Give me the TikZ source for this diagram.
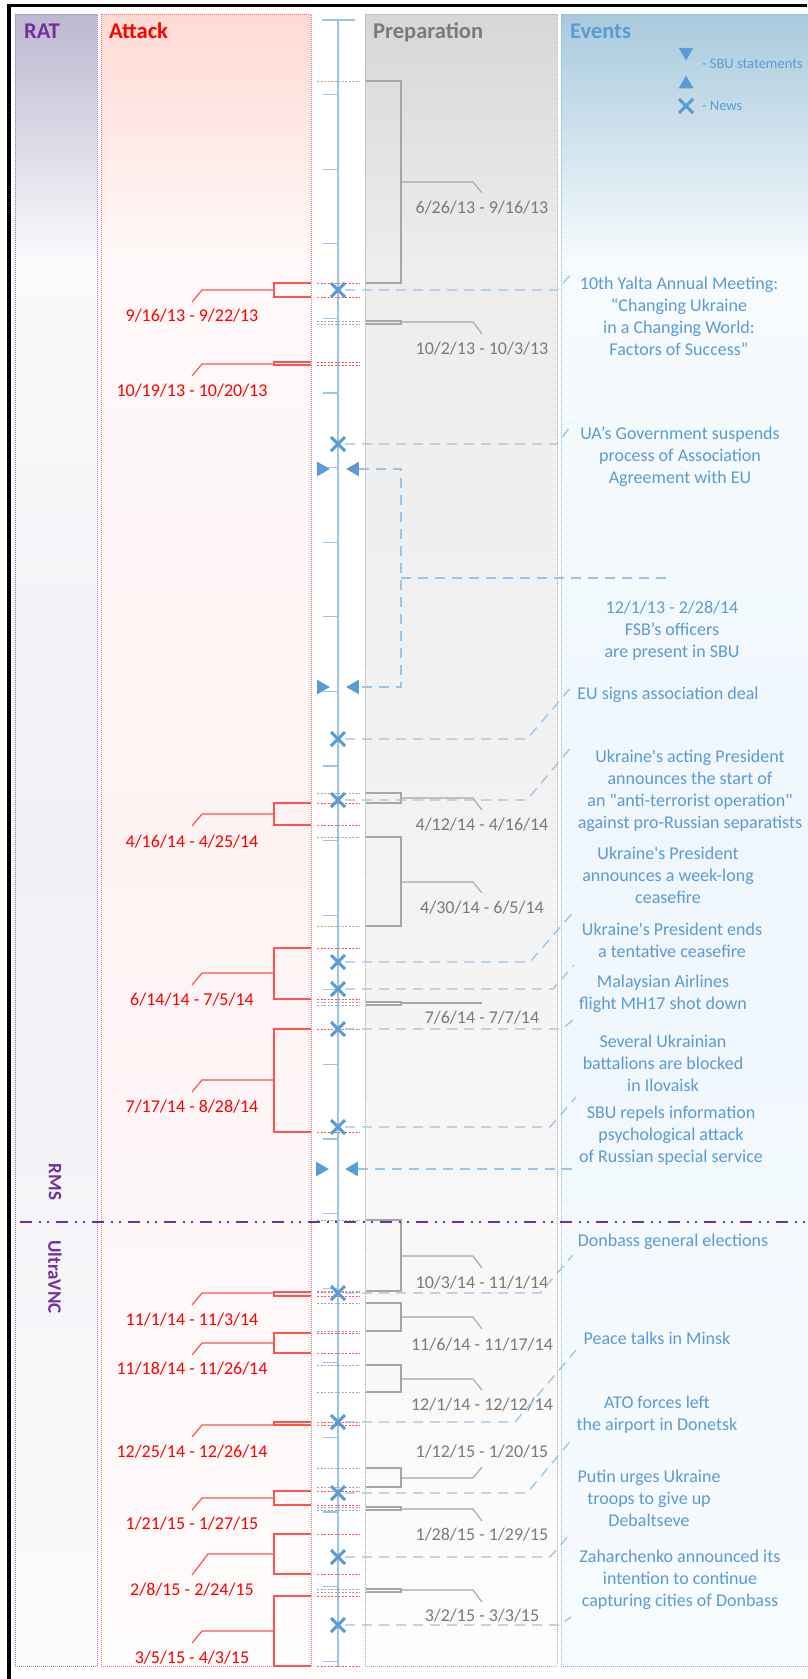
\documentclass[tikz,border=0pt]{standalone}
\usepackage{fontspec}
\setmainfont{Carlito}[Ligatures=TeXOff]
\usetikzlibrary{shapes.geometric,shapes.misc}

\definecolor{ratpurple}{HTML}{7030A0}
\definecolor{ratborder}{HTML}{9A7CC8}
\definecolor{atkred}{HTML}{FF0000}
\definecolor{atkline}{HTML}{FF5252}
\definecolor{atkborder}{HTML}{FF6A6A}
\definecolor{prepgray}{HTML}{7A7A7A}
\definecolor{prepline}{HTML}{A6A6A6}
\definecolor{prepborder}{HTML}{A8A8A8}
\definecolor{evblue}{HTML}{5B9BD5}
\definecolor{evlight}{HTML}{9DC3E6}
\definecolor{evborder}{HTML}{86B6E2}

\definecolor{ratT}{HTML}{BDB8D1}
\definecolor{ratA}{HTML}{FAFAFC}
\definecolor{ratB}{HTML}{F0F0F5}
\definecolor{ratC}{HTML}{FBFBFD}
\definecolor{atkT}{HTML}{FFDAD5}
\definecolor{atkA}{HTML}{FFF9F9}
\definecolor{atkB}{HTML}{FDF3F3}
\definecolor{atkC}{HTML}{FFFCFC}
\definecolor{prpT}{HTML}{D7D7D7}
\definecolor{prpA}{HTML}{EDEDED}
\definecolor{prpB}{HTML}{F2F2F2}
\definecolor{prpC}{HTML}{FDFDFD}
\definecolor{evT}{HTML}{A8CADD}
\definecolor{evA}{HTML}{F7FBFD}
\definecolor{evB}{HTML}{EFF7FD}
\definecolor{evC}{HTML}{F7FBFE}

\pgfdeclareverticalshading{ratshade}{100bp}{color(0bp)=(ratC); color(25bp)=(ratC); color(50bp)=(ratB); color(67.5bp)=(ratA); color(75bp)=(ratT); color(100bp)=(ratT)}
\pgfdeclareverticalshading{atkshade}{100bp}{color(0bp)=(atkC); color(25bp)=(atkC); color(50bp)=(atkB); color(67.5bp)=(atkA); color(75bp)=(atkT); color(100bp)=(atkT)}
\pgfdeclareverticalshading{prpshade}{100bp}{color(0bp)=(prpC); color(25bp)=(prpC); color(50bp)=(prpB); color(67.5bp)=(prpA); color(75bp)=(prpT); color(100bp)=(prpT)}
\pgfdeclareverticalshading{evshade}{100bp}{color(0bp)=(evC); color(25bp)=(evC); color(50bp)=(evB); color(67.5bp)=(evA); color(75bp)=(evT); color(100bp)=(evT)}

\tikzset{
  lane/.style={line width=0.8pt, dash pattern=on 1pt off 1pt},
  head/.style={font=\fontsize{22.5}{27}\selectfont\bfseries, anchor=base west, inner sep=0pt},
  rotlab/.style={font=\fontsize{19}{22}\selectfont\bfseries, text=ratpurple, rotate=-90, inner sep=0pt},
  evtext/.style={font=\fontsize{18}{22}\selectfont, text=evblue, align=center, inner sep=0pt},
  lgtext/.style={font=\fontsize{14.5}{17}\selectfont, text=evblue, anchor=west, inner sep=0pt},
  atklabel/.style={font=\fontsize{18}{22}\selectfont, text=atkred, inner sep=0pt},
  preplabel/.style={font=\fontsize{18}{22}\selectfont, text=prepgray, inner sep=0pt},
  evline/.style={draw=evlight, line width=1.3pt, dash pattern=on 10pt off 7pt},
  newsx/.style={cross out, draw=evblue, line width=3pt, minimum size=11pt, inner sep=0pt},
  sbutri/.style={regular polygon, regular polygon sides=3, fill=evblue, minimum size=17pt, inner sep=0pt},
  tlline/.style={draw=evlight, line width=1.3pt},
  atkbr/.style={draw=atkline, line width=1.2pt},
  atkdot/.style={draw=atkline, line width=1pt, dash pattern=on 2pt off 1.5pt},
  prepbr/.style={draw=prepline, line width=1.1pt},
  prepdot/.style={draw=prepline, line width=1pt, dash pattern=on 2pt off 1.5pt},
  sepline/.style={draw=ratpurple, line width=2pt, dash pattern=on 12pt off 7pt on 2pt off 6pt on 2pt off 7pt}
}

\newcommand\AtkRange[8]{%
  \draw[atkdot] (317,#2) -- (360,#2) (317,#3) -- (360,#3);
  \draw[atkbr] (311,#2) -- (274,#2) -- (274,#3) -- (311,#3);
  \coordinate (#1m) at (274,#4);
  \coordinate (#1k) at (#5,#4);
  \coordinate (#1d) at (192,#6);
  \node[atklabel] (#1l) at (192,#7) {#8};
  \draw[atkbr] (#1m) -- (#1k) -- (#1d);
}
\newcommand\PrepRange[7]{%
  \draw[prepdot] (317,#2) -- (360,#2) (317,#3) -- (360,#3);
  \draw[prepbr] (366,#2) -- (401,#2) -- (401,#3) -- (366,#3);
  \coordinate (#1m) at (401,#4);
  \coordinate (#1k) at (473,#4);
  \coordinate (#1d) at (482,#5);
  \node[preplabel] (#1l) at (482,#6) {#7};
  \draw[prepbr] (#1m) -- (#1k) -- (#1d);
}
\newcommand\NewsMark[5]{%
  \node[newsx] (#1) at (338,#2) {};
  \coordinate (#1b) at (#3,#2);
  \coordinate (#1e) at (#4,#5);
  \draw[evline] (#1.east) -- (#1b) -- (#1e);
}

\begin{document}
\begin{tikzpicture}[x=1pt,y=-1pt]
\useasboundingbox (0,0) rectangle (807,1679);
\fill[white] (0,0) rectangle (807,1679);

% lanes
\shade[shading=ratshade] (15,14) rectangle (97,1666);
\draw[lane, draw=ratborder] (15,14) rectangle (97,1666);
\shade[shading=atkshade] (101,14) rectangle (311,1666);
\draw[lane, draw=atkborder] (101,14) rectangle (311,1666);
\shade[shading=prpshade] (365,14) rectangle (557,1666);
\draw[lane, draw=prepborder] (365,14) rectangle (557,1666);
\shade[shading=evshade] (561,14) rectangle (812,1666);
\draw[lane, draw=evborder] (561,14) rectangle (812,1666);

% frame
\draw[line width=3.5pt] (9,1679) -- (9,5.5) -- (807,5.5);

% headings
\node[head, text=ratpurple] (hrat) at (24,38) {RAT};
\node[head, text=atkred] (hatk) at (109,38) {Attack};
\node[head, text=prepgray] (hprep) at (373,38) {Preparation};
\node[head, text=evblue] (hev) at (570,38) {Events};

% legend
\node[sbutri, shape border rotate=180] (lg1) at (686,52) {};
\node[sbutri] (lg2) at (686,84) {};
\node[newsx] (lg3) at (686,106) {};
\node[lgtext] (lgt1) at (702,64) {- SBU statements};
\node[lgtext] (lgt2) at (702,106) {- News};

% timeline
\draw[tlline] (338,20) -- (338,1667);
\draw[tlline] (322,20) -- (355,20);
\foreach \k in {1,...,22} {
  \draw[tlline] (323,{20+74.6*\k}) -- (338,{20+74.6*\k});
}

% preparation ranges
\PrepRange{p1}{81}{283}{182}{193}{208}{6/26/13 - 9/16/13}
\PrepRange{p2}{321}{324}{322}{334}{349}{10/2/13 - 10/3/13}
\PrepRange{p3}{793}{803}{798}{810}{825}{4/12/14 - 4/16/14}
\PrepRange{p4}{837}{926}{882}{893}{908}{4/30/14 - 6/5/14}
\PrepRange{p5}{1002}{1005}{1003}{1003}{1018}{7/6/14 - 7/7/14}
\PrepRange{p6}{1220}{1291}{1256}{1268}{1283}{10/3/14 - 11/1/14}
\PrepRange{p7}{1303}{1331}{1317}{1329}{1345}{11/6/14 - 11/17/14}
\PrepRange{p8}{1365}{1392}{1379}{1390}{1405}{12/1/14 - 12/12/14}
\PrepRange{p9}{1468}{1487}{1478}{1467}{1452}{1/12/15 - 1/20/15}
\PrepRange{p10}{1507}{1510}{1509}{1521}{1535}{1/28/15 - 1/29/15}
\PrepRange{p11}{1589}{1592}{1590}{1602}{1616}{3/2/15 - 3/3/15}

% attack ranges
\AtkRange{a1}{283}{297}{290}{202}{302}{316}{9/16/13 - 9/22/13}
\AtkRange{a2}{362}{365}{364}{202}{376}{391}{10/19/13 - 10/20/13}
\AtkRange{a3}{803}{825}{814}{202}{826}{842}{4/16/14 - 4/25/14}
\AtkRange{a4}{948}{999}{973}{202}{985}{1000}{6/14/14 - 7/5/14}
\AtkRange{a5}{1029}{1132}{1080}{202}{1092}{1107}{7/17/14 - 8/28/14}
\AtkRange{a6}{1292}{1296}{1293}{202}{1305}{1320}{11/1/14 - 11/3/14}
\AtkRange{a7}{1333}{1353}{1343}{202}{1355}{1369}{11/18/14 - 11/26/14}
\AtkRange{a8}{1422}{1425}{1425}{202}{1437}{1452}{12/25/14 - 12/26/14}
\AtkRange{a9}{1491}{1505}{1498}{202}{1510}{1524}{1/21/15 - 1/27/15}
\AtkRange{a10}{1534}{1574}{1554}{208}{1575}{1590}{2/8/15 - 2/24/15}
\AtkRange{a11}{1596}{1666}{1631}{202}{1643}{1658}{3/5/15 - 4/3/15}

% SBU statements
\node[sbutri, shape border rotate=-90] (s1a) at (321.3,469) {};
\node[sbutri, shape border rotate=90] (s1b) at (354.7,469) {};
\node[sbutri, shape border rotate=-90] (s2a) at (321.3,687) {};
\node[sbutri, shape border rotate=90] (s2b) at (354.7,687) {};
\node[sbutri, shape border rotate=-90] (s3a) at (320.3,1169) {};
\node[sbutri, shape border rotate=90] (s3b) at (353.7,1169) {};
\coordinate (fsbt) at (401,469);
\coordinate (fsbb) at (401,687);
\coordinate (fsbm) at (401,578);
\coordinate (fsbe) at (672,578);
\coordinate (s3e) at (572,1169);
\draw[evline] (s1b.east) -- (fsbt) -- (fsbb) -- (s2b.east);
\draw[evline] (fsbm) -- (fsbe);
\draw[evline] (s3b.east) -- (s3e);

% news
\NewsMark{n1}{290}{557}{573}{272}
\NewsMark{n2}{444}{557}{573}{423}
\NewsMark{n3}{739}{527}{573}{685}
\NewsMark{n4}{800}{527}{573}{745}
\NewsMark{n5}{962}{530}{576}{909}
\NewsMark{n6}{989}{553}{574}{965}
\NewsMark{n7}{1029}{562}{573}{1020}
\NewsMark{n8}{1127}{550}{576}{1097}
\NewsMark{n9}{1293}{540}{573}{1255}
\NewsMark{n10}{1422}{515}{576}{1350}
\NewsMark{n11}{1493}{527}{573}{1438}
\NewsMark{n12}{1557}{550}{571}{1533}
\NewsMark{n13}{1625}{560}{571}{1617}

% event texts
\node[evtext] (ev1) at (679,316) {10th Yalta Annual Meeting:\\“Changing Ukraine\\in a Changing World:\\Factors of Success”};
\node[evtext] (ev2) at (680,457) {UA’s Government suspends\\process of Association\\Agreement with EU};
\node[evtext] (ev3) at (672,631) {12/1/13 - 2/28/14\\FSB’s officers\\are present in SBU};
\node[evtext] (ev4) at (668,695) {EU signs association deal};
\node[evtext] (ev5) at (690,791) {Ukraine's acting President\\announces the start of\\an "anti-terrorist operation"\\against pro-Russian separatists};
\node[evtext] (ev6) at (668,875) {Ukraine's President\\announces a week-long\\ceasefire};
\node[evtext] (ev7) at (672,940) {Ukraine's President ends\\a tentative ceasefire};
\node[evtext] (ev8) at (663,994) {Malaysian Airlines\\flight MH17 shot down};
\node[evtext] (ev9) at (663,1063) {Several Ukrainian\\battalions are blocked\\in Ilovaisk};
\node[evtext] (ev10) at (671,1136) {SBU repels information\\psychological attack\\of Russian special service};
\node[evtext] (ev11) at (673,1242) {Donbass general elections};
\node[evtext] (ev12) at (657,1338) {Peace talks in Minsk};
\node[evtext] (ev13) at (657,1415) {ATO forces left\\the airport in Donetsk};
\node[evtext] (ev14) at (649,1498) {Putin urges Ukraine\\troops to give up\\Debaltseve};
\node[evtext] (ev15) at (680,1580) {Zaharchenko announced its\\intention to continue\\capturing cities of Donbass};

% RAT separator and labels
\draw[sepline] (20,1222) -- (807,1222);
\node[rotlab] (rms) at (55,1182) {RMS};
\node[rotlab] (uvnc) at (55,1277) {UltraVNC};
\end{tikzpicture}
\end{document}
